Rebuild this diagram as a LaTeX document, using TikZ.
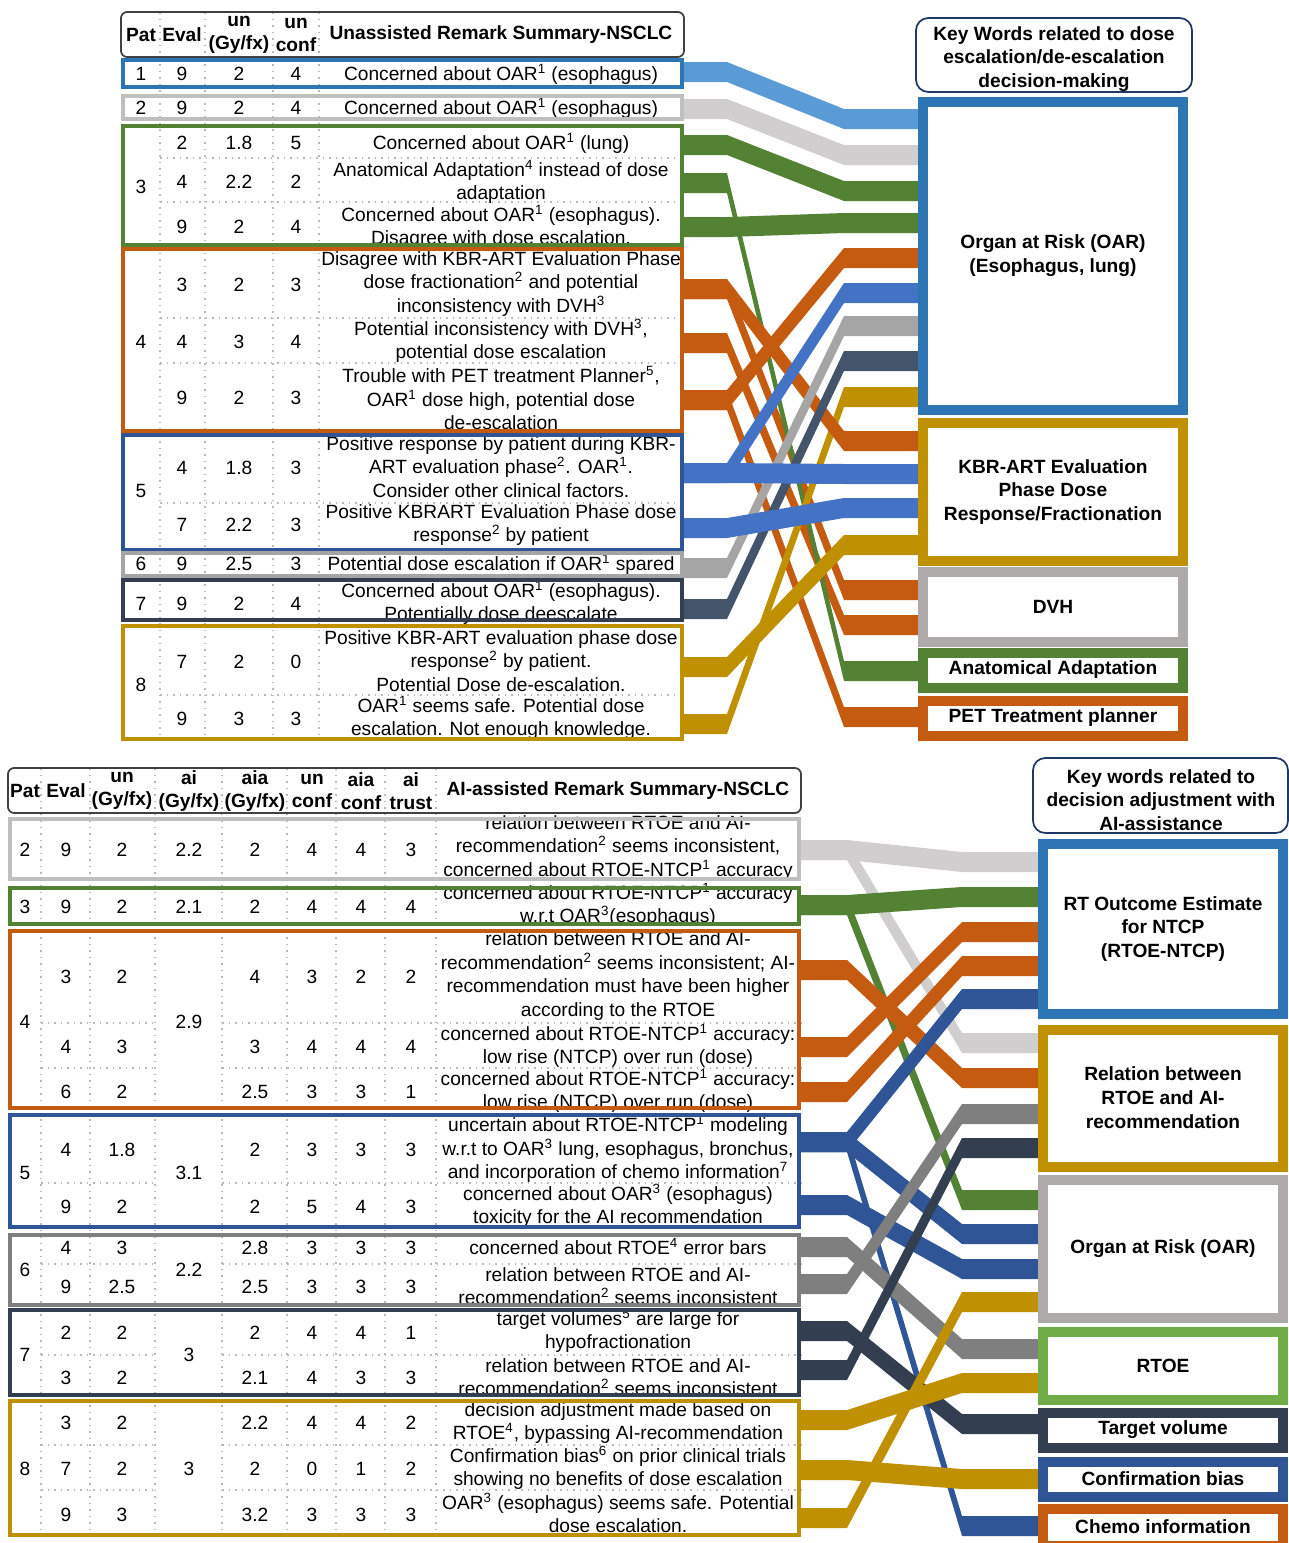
\documentclass[tikz,border=0pt]{standalone}
\usepackage{fontspec}
\setmainfont{Liberation Sans}

\definecolor{oarblue}{HTML}{2E75B6}
\definecolor{sky}{HTML}{5B9BD5}
\definecolor{silverline}{HTML}{BFBFBF}
\definecolor{silverband}{HTML}{D0CECE}
\definecolor{leafgreen}{HTML}{548235}
\definecolor{rust}{HTML}{C55A11}
\definecolor{royal}{HTML}{4472C4}
\definecolor{royaldark}{HTML}{2F5597}
\definecolor{midgray}{HTML}{A5A5A5}
\definecolor{slate}{HTML}{44546A}
\definecolor{gold}{HTML}{BF9000}
\definecolor{stone}{HTML}{AEAAAA}
\definecolor{ink}{HTML}{333F50}
\definecolor{ashgray}{HTML}{7F7F7F}
\definecolor{lime}{HTML}{70AD47}
\definecolor{headline}{HTML}{404040}
\definecolor{titlenavy}{HTML}{1F3864}

\newcommand{\supn}[1]{\textsuperscript{#1}}
% x positions of a flow: table edge, first bend, second bend, key box
\newcommand{\bandcols}[4]{\def\bxa{#1}\def\bxb{#2}\def\bxc{#3}\def\bxd{#4}}
\newcommand{\band}[3]{%
  \fill[#1] (\bxa,#2) -- (\bxb,#2) -- (\bxc,#3) -- (\bxd,#3) -- (\bxd,#3+20)
    -- (\bxc,#3+20) -- (\bxb,#2+20) -- (\bxa,#2+20) -- cycle;}

\tikzset{
  cell/.style={inner sep=0pt, align=center},
  headcell/.style={cell, font=\fontsize{10.9}{13.3}\selectfont\bfseries},
  grp/.style={draw=#1, line width=2.28pt},
  sep/.style={draw=gray!55, line width=0.9pt, dash pattern=on 0.9pt off 2.8pt},
  headbox/.style={draw=headline, line width=1pt, rounded corners=3.5pt},
  titlebox/.style={draw=titlenavy, line width=1pt, rounded corners=7pt},
  kbox/.style={draw=#1, line width=5.69pt, fill=white, inner sep=0pt, align=center,
    font=\fontsize{10.9}{13.6}\selectfont\bfseries},
}

\begin{document}
\begin{tikzpicture}[x=0.02cm, y=-0.02cm, font=\fontsize{10.9}{13.3}\selectfont]
\useasboundingbox (0,0) rectangle (1289,1543);

% flows, upper part
\begin{scope}
  \bandcols{684}{727}{844}{918}
  \band{rust}{279}{580}
  \band{rust}{333}{615}
  \band{rust}{390}{707}
  \band{leafgreen}{173}{661}
  \band{gold}{714}{387}
  \band{sky}{62}{109}
  \band{silverband}{99}{145}
  \band{leafgreen}{135}{181}
  \band{leafgreen}{217}{213}
  \band{rust}{279}{431}
  \band{rust}{390}{248}
  \band{gold}{657}{535}
  \band{slate}{599}{351}
  \band{midgray}{558}{316}
  \band{royal}{463}{283}
  \band{royal}{463}{464}
  \band{royal}{518}{498}
\end{scope}

% flows, lower part
\begin{scope}
  \bandcols{801}{847}{962}{1038}
  \band{royaldark}{1132}{1516}
  \band{leafgreen}{895}{1190}
  \band{silverband}{840}{1033}
  \band{silverband}{840}{852}
  \band{leafgreen}{895}{887}
  \band{rust}{960}{1068}
  \band{rust}{1037}{922}
  \band{rust}{1082}{956}
  \band{royaldark}{1132}{989}
  \band{royaldark}{1132}{1224}
  \band{royaldark}{1195}{1259}
  \band{ashgray}{1274}{1104}
  \band{ashgray}{1237}{1339}
  \band{ink}{1360}{1138}
  \band{ink}{1321}{1414}
  \band{gold}{1508}{1292}
  \band{gold}{1410}{1373}
  \band{gold}{1460}{1469}
\end{scope}

% upper table
\foreach \x in {160,205,273,319} \draw[sep] (\x,12) -- (\x,741);
\foreach \y in {158,202,318,363,503,695} \draw[sep] (160,\y) -- (684,\y);
\draw[headbox] (121,12) rectangle (684,57);
\node[headcell] (hpat) at (141,35) {Pat};
\node[headcell] (heval) at (182,35) {Eval};
\node[headcell] (hun) at (239,35) {un\\(Gy/fx)};
\node[headcell] (hconf) at (296,35) {un\\conf};
\node[headcell] (hrem) at (501,35) {Unassisted Remark Summary-NSCLC};

\foreach \y/\p in {74/1, 108/2, 187/3, 342/4, 491/5, 564/6, 604/7, 685/8}
  \node[cell] (pat\p) at (141,\y) {\p};
\foreach \y/\pe/\pg/\pc in {74/9/2/4, 108/9/2/4, 143/2/1.8/5, 182/4/2.2/2, 227/9/2/4,
    285/3/2/3, 342/4/3/4, 398/9/2/3, 468/4/1.8/3, 525/7/2.2/3, 564/9/2.5/3,
    604/9/2/4, 662/7/2/0, 719/9/3/3}{
  \node[cell] (ev\y) at (182,\y) {\pe};
  \node[cell] (gy\y) at (239,\y) {\pg};
  \node[cell] (cf\y) at (296,\y) {\pc};
}
\node[cell] (rem1) at (501,74) {Concerned about OAR\supn{1} (esophagus)};
\node[cell] (rem2) at (501,108) {Concerned about OAR\supn{1} (esophagus)};
\node[cell] (rem3a) at (501,143) {Concerned about OAR\supn{1} (lung)};
\node[cell] (rem3b) at (501,182) {Anatomical Adaptation\supn{4} instead of dose\\adaptation};
\node[cell] (rem3c) at (501,227) {Concerned about OAR\supn{1} (esophagus).\\Disagree with dose escalation.};
\node[cell] (rem4a) at (501,284) {Disagree with KBR-ART Evaluation Phase\\dose fractionation\supn{2} and potential\\inconsistency with DVH\supn{3}};
\node[cell] (rem4b) at (501,341) {Potential inconsistency with DVH\supn{3},\\potential dose escalation};
\node[cell] (rem4c) at (501,398) {Trouble with PET treatment Planner\supn{5},\\OAR\supn{1} dose high, potential dose\\de-escalation};
\node[cell] (rem5a) at (501,467) {Positive response by patient during KBR-\\ART evaluation phase\supn{2}. OAR\supn{1}.\\Consider other clinical factors.};
\node[cell] (rem5b) at (501,525) {Positive KBRART Evaluation Phase dose\\response\supn{2} by patient};
\node[cell] (rem6) at (501,564) {Potential dose escalation if OAR\supn{1} spared};
\node[cell] (rem7) at (501,603) {Concerned about OAR\supn{1} (esophagus).\\Potentially dose deescalate};
\node[cell] (rem8a) at (501,661) {Positive KBR-ART evaluation phase dose\\response\supn{2} by patient.\\Potential Dose de-escalation.};
\node[cell] (rem8b) at (501,718) {OAR\supn{1} seems safe. Potential dose\\escalation. Not enough knowledge.};

\draw[grp=oarblue] (123,60) rectangle (682,87);
\draw[grp=silverline] (123,96) rectangle (682,119);
\draw[grp=leafgreen] (123,126) rectangle (682,245);
\draw[grp=rust] (123,249) rectangle (682,431);
\draw[grp=royaldark] (123,435) rectangle (682,550);
\draw[grp=midgray] (123,553) rectangle (682,576);
\draw[grp=ink] (123,580) rectangle (682,620);
\draw[grp=gold] (123,626) rectangle (682,739);

% lower table
\foreach \x in {41,90,155,222,287,336,385,436} \draw[sep] (\x,768) -- (\x,1537);
\foreach \y in {1023,1068,1183,1264,1355,1445,1490}{
  \draw[sep] (41,\y) -- (155,\y);
  \draw[sep] (222,\y) -- (801,\y);
}
\draw[headbox] (8,768) rectangle (801,813);
\node[headcell] (aihpat) at (25,791) {Pat};
\node[headcell] (aiheval) at (66,791) {Eval};
\node[headcell] (aihun) at (122,791) {un\\(Gy/fx)};
\node[headcell] (aihai) at (189,791) {ai\\(Gy/fx)};
\node[headcell] (aihaia) at (255,791) {aia\\(Gy/fx)};
\node[headcell] (aihuc) at (312,791) {un\\conf};
\node[headcell] (aihac) at (361,791) {aia\\conf};
\node[headcell] (aihtr) at (411,791) {ai\\trust};
\node[headcell] (aihrem) at (618,791) {AI-assisted Remark Summary-NSCLC};

\foreach \y/\p/\ai in {850/2/2.2, 907/3/2.1, 1022/4/2.9, 1173/5/3.1, 1270/6/2.2, 1355/7/3, 1469/8/3}{
  \node[cell] (aipat\p) at (25,\y) {\p};
  \node[cell] (aigy\p) at (189,\y) {\ai};
}
\foreach \y/\ve/\vg/\va/\vu/\vk/\vt in {850/9/2/2/4/4/3, 907/9/2/2/4/4/4, 977/3/2/4/3/2/2,
    1047/4/3/3/4/4/4, 1092/6/2/2.5/3/3/1, 1150/4/1.8/2/3/3/3, 1207/9/2/2/5/4/3,
    1248/4/3/2.8/3/3/3, 1287/9/2.5/2.5/3/3/3, 1333/2/2/2/4/4/1, 1378/3/2/2.1/4/3/3,
    1423/3/2/2.2/4/4/2, 1469/7/2/2/0/1/2, 1515/9/3/3.2/3/3/3}{
  \node[cell] (aiev\y) at (66,\y) {\ve};
  \node[cell] (aiun\y) at (122,\y) {\vg};
  \node[cell] (aiaia\y) at (255,\y) {\va};
  \node[cell] (aiuc\y) at (312,\y) {\vu};
  \node[cell] (aiac\y) at (361,\y) {\vk};
  \node[cell] (aitr\y) at (411,\y) {\vt};
}
\node[cell] (aib2) at (618,848) {relation between RTOE and AI-\\recommendation\supn{2} seems inconsistent,\\concerned about RTOE-NTCP\supn{1} accuracy};
\node[cell] (aib3) at (618,905) {concerned about RTOE-NTCP\supn{1} accuracy\\w.r.t OAR\supn{3}(esophagus)};
\node[cell] (aib4a) at (618,976) {relation between RTOE and AI-\\recommendation\supn{2} seems inconsistent; AI-\\recommendation must have been higher\\according to the RTOE};
\node[cell] (aib4b) at (618,1046) {concerned about RTOE-NTCP\supn{1} accuracy:\\low rise (NTCP) over run (dose)};
\node[cell] (aib4c) at (618,1091) {concerned about RTOE-NTCP\supn{1} accuracy:\\low rise (NTCP) over run (dose)};
\node[cell] (aib5a) at (618,1149) {uncertain about RTOE-NTCP\supn{1} modeling\\w.r.t to OAR\supn{3} lung, esophagus, bronchus,\\and incorporation of chemo information\supn{7}};
\node[cell] (aib5b) at (618,1206) {concerned about OAR\supn{3} (esophagus)\\toxicity for the AI recommendation};
\node[cell] (aib6a) at (618,1246) {concerned about RTOE\supn{4} error bars};
\node[cell] (aib6b) at (618,1286) {relation between RTOE and AI-\\recommendation\supn{2} seems inconsistent};
\node[cell] (aib7a) at (618,1331) {target volumes\supn{5} are large for\\hypofractionation};
\node[cell] (aib7b) at (618,1377) {relation between RTOE and AI-\\recommendation\supn{2} seems inconsistent};
\node[cell] (aib8a) at (618,1423) {decision adjustment made based on\\RTOE\supn{4}, bypassing AI-recommendation};
\node[cell] (aib8b) at (618,1468) {Confirmation bias\supn{6} on prior clinical trials\\showing no benefits of dose escalation};
\node[cell] (aib8c) at (618,1513) {OAR\supn{3} (esophagus) seems safe. Potential\\dose escalation.};

\draw[grp=silverline] (10,819) rectangle (799,879);
\draw[grp=leafgreen] (10,888) rectangle (799,924);
\draw[grp=rust] (10,931) rectangle (799,1108);
\draw[grp=royaldark] (10,1115) rectangle (799,1227);
\draw[grp=ashgray] (10,1235) rectangle (799,1305);
\draw[grp=ink] (10,1310) rectangle (799,1395);
\draw[grp=gold] (10,1401) rectangle (799,1535);

% key words, upper
\draw[titlebox] (916,18) rectangle (1192,92);
\node[headcell] (keytop) at (1054,59) {Key Words related to dose\\escalation/de-escalation\\decision-making};
\node[kbox=oarblue, minimum width=5.2cm, minimum height=6.16cm] (oar) at (1053,256) {Organ at Risk (OAR)\\(Esophagus, lung)};
\node[kbox=gold, minimum width=5.2cm, minimum height=2.76cm] (kbr) at (1053,492) {KBR-ART Evaluation\\Phase Dose\\Response/Fractionation};
\node[kbox=stone, minimum width=5.2cm, minimum height=1.4cm] (dvh) at (1053,607) {DVH};
\node[kbox=leafgreen, minimum width=5.2cm, minimum height=0.7cm] (anat) at (1053,670) {Anatomical Adaptation};
\node[kbox=rust, minimum width=5.2cm, minimum height=0.7cm] (pet) at (1053,718) {PET Treatment planner};

% key words, lower
\draw[titlebox] (1033,758) rectangle (1288,833);
\node[headcell] (keybot) at (1161,800) {Key words related to\\decision adjustment with\\AI-assistance};
\node[kbox=oarblue, minimum width=4.82cm, minimum height=3.4cm] (rtoentcp) at (1163,929) {RT Outcome Estimate\\for NTCP\\(RTOE-NTCP)};
\node[kbox=gold, minimum width=4.82cm, minimum height=2.74cm] (relation) at (1163,1098) {Relation between\\RTOE and AI-\\recommendation};
\node[kbox=stone, minimum width=4.82cm, minimum height=2.76cm] (oarai) at (1163,1249) {Organ at Risk (OAR)};
\node[kbox=lime, minimum width=4.82cm, minimum height=1.36cm] (rtoe) at (1163,1366) {RTOE};
\node[kbox=ink, minimum width=4.82cm, minimum height=0.7cm] (target) at (1163,1430) {Target volume};
\node[kbox=royaldark, minimum width=4.82cm, minimum height=0.7cm] (confirm) at (1163,1479) {Confirmation bias};
\node[kbox=rust, minimum width=4.82cm, minimum height=0.74cm] (chemo) at (1163,1527) {Chemo information};
\end{tikzpicture}
\end{document}
